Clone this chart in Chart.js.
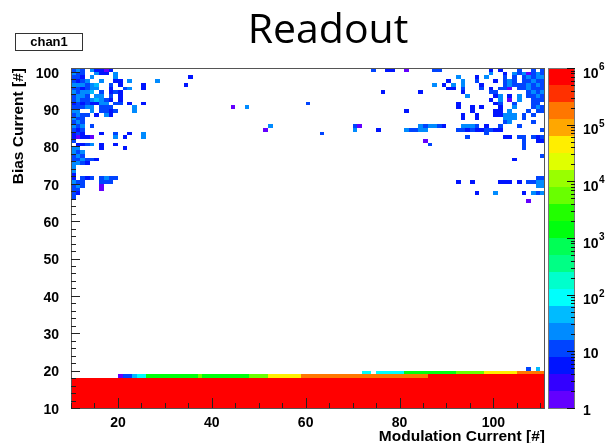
<!DOCTYPE html>
<html>
<head>
<meta charset="utf-8">
<script src="https://cdn.jsdelivr.net/npm/chart.js@4.4.1/dist/chart.umd.min.js"></script>
<style>
  html,body{margin:0;padding:0;background:#fff}
  canvas{display:block}
</style>
</head>
<body>
<canvas id="hist" width="607" height="443"></canvas>
<script>
// axis labels
const xTicks = [20, 40, 60, 80, 100];
const yTicks = [10, 20, 30, 40, 50, 60, 70, 80, 90, 100];
const zDecades = [1, 10, 100, 1000, 10000, 100000, 1000000];

// entries per colour code
const codeCounts = {'1': 1, '2': 5, '3': 10, '4': 20, '5': 40, '6': 100, '7': 1500, '8': 6000, '9': 40000, 'o': 150000, 'r': 800000};

// hit map: [bias, 'modStart:codes' ...] or 'modFrom-modTo:code' for a run
const hitRows = [
  [100, '10:343.42212', '74:3..22..1', '87:33', '99:2.2...3..3.3'],
  [99, '10:433..422.4', '99:4..2.4341343'],
  [98, '10:332.4....4', '35:2', '92:4...2.4...3.3.34344'],
  [97, '10:3234..4..22.4', '28:4', '90:2..4..3...2.343.33433'],
  [96, '10:444345..3.2....2', '34:2', '87:4.2.4.4...2....343334343'],
  [95, '10:332344..2..34..2', '90:22.3...3.2.331.334333'],
  [94, '10:43445.3.232', '76:2', '84:2', '93:2.....33......3434'],
  [93, '10:3443.44.3.2', '94:4.....24.2.4.3343'],
  [92, '10:343345432.2', '99:2.4.1.4..333'],
  [91, '10:23232244.33.2..2', '60:3', '92:2.......23..3...33.'],
  [90, '10:33344.333....4', '44:1..4', '92:2..2.2...2..4...343'],
  [89, '10:44..4.3323...4', '81:2', '95:2....22.4...3.33'],
  [88, '10:3433.2.42', '93:2..2...22444.3.3..'],
  [87, '10:433', '93:2..2.....444.3'],
  [86, '10:343', '102:34....3'],
  [85, '10:434.3', '52:4', '70:31', '84:434432...4443.2..3...3'],
  [84, '10:323', '51:1', '70:4', '75:2', '81:43344', '92:3323223322', '110:3'],
  [83, '10:232...2..3..2..4', '63:3', '98:3'],
  [82, '10:21221....4.2...4', '94:3.......22.33.323'],
  [81, '10:3', '85:1', '106:3..22'],
  [80, '11:2234.2..2', '86:3', '106:3'],
  [79, '10:44....2....2', '106:3'],
  [78, '10:434'],
  [77, '10:343', '110:3'],
  [76, '10:334332', '104:2'],
  [75, '10:4432'],
  [74, '10:4'],
  [73, '10:4'],
  [72, '10:2'],
  [71, '10:2.323.3433', '109:33'],
  [70, '10:433...333', '92:2..2.....222.2.3344'],
  [69, '10:343...1', '109:44'],
  [68, '10:33....1'],
  [67, '10:32', '96:2...4.....2.434'],
  [66, '10:3'],
  [65, '107:1'],
  [20, '107:3.5'],
  [19, '72:66.6', '76-80:6', '81-91:7', '92-97:8', '98-104:9', '105-110:o'],
  [18, '20:133566', '26-36:7', '37:8', '38-47:7', '48-51:8', '52-58:9', '59-85:o', '86-110:r'],
  [17, '10-110:r'],
  [16, '10-110:r'],
  [15, '10-110:r'],
  [14, '10-110:r'],
  [13, '10-110:r'],
  [12, '10-110:r'],
  [11, '10-110:r'],
  [10, '10-110:r']
];

function expandRows(rows) {
  const cells = [];
  rows.forEach(([y, ...segs]) => {
    segs.forEach(seg => {
      const [pos, codes] = seg.split(':');
      if (pos.includes('-')) {
        const [a, b] = pos.split('-').map(Number);
        for (let x = a; x <= b; x++) cells.push({x, y, v: codeCounts[codes]});
      } else {
        const x0 = Number(pos);
        [...codes].forEach((c, i) => { if (c !== '.') cells.push({x: x0 + i, y, v: codeCounts[c]}); });
      }
    });
  });
  return cells;
}

// ROOT "pretty" palette, 20 contour levels on a log z axis
const nLevels = 20;
function bandColor(k) {
  const idx = Math.floor((k + 0.99) * 50 / nLevels);
  const hue = 280 - (idx + 1) * 5.6;
  return 'hsl(' + hue + ',100%,50%)';
}
function levelOf(v) {
  return Math.max(0, Math.min(nLevels - 1, Math.floor(Math.log10(v) / (6 / nLevels))));
}

const FONT = '"Liberation Sans", Arial, Helvetica, sans-serif';
const sup = ['', '', '2', '3', '4', '5', '6'];

const rootDecor = {
  id: 'rootDecor',
  beforeDatasetsDraw(chart) {
    const {ctx, chartArea: a, scales: {x, y}} = chart;
    ctx.save();
    ctx.beginPath();
    ctx.rect(a.left, a.top, a.right - a.left, a.bottom - a.top);
    ctx.clip();
    chart.data.datasets[0].data.forEach(p => {
      const x0 = Math.round(x.getPixelForValue(p.x)), x1 = Math.round(x.getPixelForValue(p.x + 1));
      const y0 = Math.round(y.getPixelForValue(p.y + 1)), y1 = Math.round(y.getPixelForValue(p.y));
      ctx.fillStyle = bandColor(levelOf(p.v));
      ctx.fillRect(x0, y0, x1 - x0, y1 - y0);
    });
    ctx.restore();
  },
  afterDraw(chart) {
    const {ctx, chartArea: a, scales: {x, y, zColor: z}} = chart;
    ctx.save();
    // frame
    ctx.strokeStyle = '#555';
    ctx.lineWidth = 1;
    ctx.strokeRect(a.left + 0.5, a.top + 0.5, a.right - a.left - 1, a.bottom - a.top);
    // inward ticks
    ctx.strokeStyle = '#222';
    ctx.beginPath();
    for (let v = 10; v <= 101; v += 2) {
      const py = Math.round(y.getPixelForValue(v)) + 0.5;
      const len = yTicks.includes(v) ? 9 : 5;
      ctx.moveTo(a.left, py); ctx.lineTo(a.left + len, py);
    }
    for (let v = 10; v <= 111; v += 5) {
      const px = Math.round(x.getPixelForValue(v)) + 0.5;
      const len = xTicks.includes(v) ? 10 : 5;
      ctx.moveTo(px, a.bottom); ctx.lineTo(px, a.bottom - len);
    }
    ctx.stroke();

    // colour bar
    const bx0 = a.right + 3, bx1 = a.right + 30;
    for (let k = 0; k < nLevels; k++) {
      const top = Math.round(z.getPixelForValue(Math.pow(10, (k + 1) * 6 / nLevels)));
      const bot = Math.round(z.getPixelForValue(Math.pow(10, k * 6 / nLevels)));
      ctx.fillStyle = bandColor(k);
      ctx.fillRect(bx0, top, bx1 - bx0, bot - top);
    }
    ctx.strokeStyle = '#777';
    ctx.strokeRect(bx0 + 0.5, a.top + 0.5, bx1 - bx0 - 1, a.bottom - a.top);
    ctx.strokeStyle = '#111';
    ctx.beginPath();
    zDecades.forEach((d, i) => {
      const py = Math.round(z.getPixelForValue(d)) + 0.5;
      ctx.moveTo(bx1, py); ctx.lineTo(bx1 - 8, py);
      if (i < zDecades.length - 1) {
        for (let m = 2; m <= 9; m++) {
          const pm = Math.round(z.getPixelForValue(d * m)) + 0.5;
          ctx.moveTo(bx1, pm); ctx.lineTo(bx1 - 4, pm);
        }
      }
    });
    ctx.stroke();
    // colour bar labels
    ctx.fillStyle = '#000';
    ctx.textAlign = 'left';
    ctx.textBaseline = 'alphabetic';
    zDecades.forEach((d, i) => {
      const py = z.getPixelForValue(d);
      ctx.font = 'bold 14px ' + FONT;
      if (i === 0) { ctx.fillText('1', 583, py + 6.5); return; }
      if (i === 1) { ctx.fillText('10', 583, py + 6.5); return; }
      ctx.fillText('10', 583, py + 9.5);
      const w = ctx.measureText('10').width;
      ctx.font = 'bold 10px ' + FONT;
      ctx.fillText(sup[i], 583 + w + 0.5, py + 2);
    });

    // title and stats label
    ctx.font = '41px "Open Sans", sans-serif';
    ctx.textAlign = 'center';
    ctx.fillText('Readout', 328, 43);
    ctx.strokeStyle = '#333';
    ctx.strokeRect(15.5, 33.5, 67, 17);
    ctx.font = 'bold 13px ' + FONT;
    ctx.textBaseline = 'middle';
    ctx.fillText('chan1', 49, 42.5);
    ctx.restore();
  }
};

const axisFont = {family: FONT, size: 14, weight: 'bold'};
const titleFont = {family: FONT, size: 15.5, weight: 'bold', lineHeight: 1};

new Chart(document.getElementById('hist'), {
  type: 'scatter',
  data: {
    datasets: [{label: 'chan1', data: expandRows(hitRows), pointRadius: 0, pointHoverRadius: 0, showLine: false}]
  },
  options: {
    responsive: false,
    animation: false,
    devicePixelRatio: 1,
    layout: {padding: {top: 68, left: 0, right: 0, bottom: 0}},
    plugins: {legend: {display: false}, tooltip: {enabled: false}, title: {display: false}},
    scales: {
      x: {
        type: 'linear', position: 'bottom', min: 10, max: 111,
        grid: {display: false}, border: {display: false},
        afterBuildTicks: s => { s.ticks = xTicks.map(v => ({value: v})); },
        afterFit: s => { s.height = 35; },
        ticks: {font: axisFont, color: '#000', padding: -1, maxRotation: 0, autoSkip: false},
        title: {display: true, text: 'Modulation Current [#]', align: 'end', color: '#000', font: titleFont, padding: {top: 0, bottom: -1}}
      },
      y: {
        type: 'linear', position: 'left', min: 10, max: 101,
        grid: {display: false}, border: {display: false},
        afterBuildTicks: s => { s.ticks = yTicks.map(v => ({value: v})); },
        afterFit: s => { s.width = 71; },
        ticks: {font: axisFont, color: '#000', padding: 4, autoSkip: false, labelOffset: 2},
        title: {display: true, text: 'Bias Current [#]', align: 'end', color: '#000', font: titleFont, padding: {top: 11, bottom: 0}}
      },
      zColor: {
        type: 'logarithmic', axis: 'y', position: 'right', min: 1, max: 1000000,
        grid: {display: false}, border: {display: false},
        afterBuildTicks: s => { s.ticks = zDecades.map(v => ({value: v})); },
        afterFit: s => { s.width = 62; },
        ticks: {display: false}
      }
    }
  },
  plugins: [rootDecor]
});
</script>
</body>
</html>
